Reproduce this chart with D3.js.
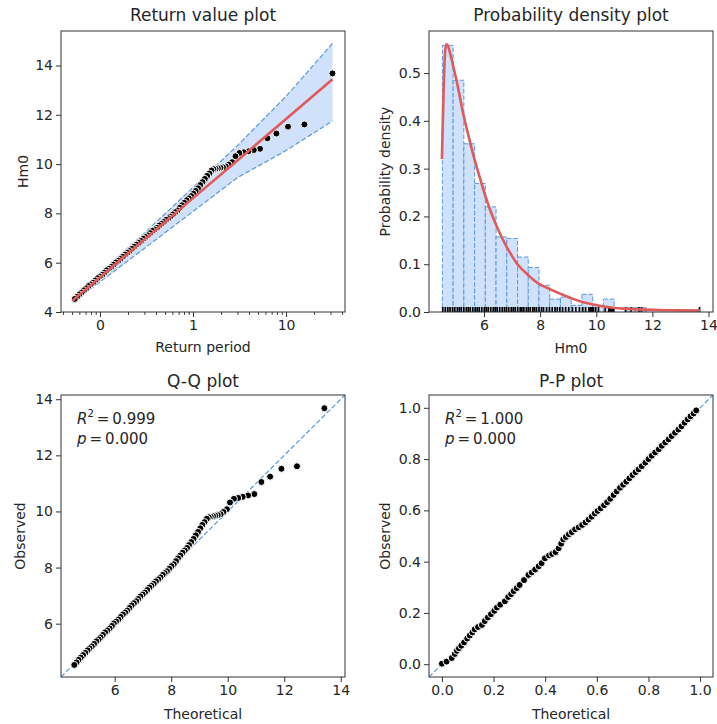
<!DOCTYPE html>
<html><head><meta charset="utf-8">
<script src="https://cdn.jsdelivr.net/npm/d3@7"></script>
<style>
body{margin:0;background:#fff;}
svg text{font-family:"DejaVu Sans",sans-serif;fill:#262626;}
</style></head>
<body><svg id="c" width="717" height="724"></svg>
<script>
// ---------------- data ----------------
// sorted observations, largest first: return period, Q-Q theoretical quantile, observed Hm0
const returnPeriod = [31.5, 15.75, 10.5, 7.88, 6.3, 5.25, 4.5, 3.94, 3.5, 3.15, 2.86, 2.63, 2.42, 2.25, 2.1, 1.97, 1.85, 1.75, 1.66, 1.58,
  1.500, 1.418, 1.340, 1.266, 1.197, 1.131, 1.069, 1.010, 0.955, 0.903, 0.853, 0.806, 0.762, 0.720, 0.681, 0.643, 0.608, 0.574, 0.543, 0.513,
  0.485, 0.458, 0.433, 0.410, 0.387, 0.366, 0.346, 0.327, 0.309, 0.292, 0.276, 0.261, 0.246, 0.233, 0.220, 0.208, 0.197, 0.186, 0.176, 0.166,
  0.157, 0.148, 0.140, 0.132, 0.125, 0.118, 0.112, 0.106, 0.0998, 0.0943, 0.0891, 0.0843, 0.0796, 0.0752, 0.0711, 0.0672, 0.0635, 0.0600, 0.0568, 0.0536];
const theoretical = [13.42, 12.45, 11.9, 11.5, 11.19, 10.94, 10.72, 10.53, 10.37, 10.22, 10.08, 9.97, 9.85, 9.75, 9.65, 9.56, 9.48, 9.4, 9.33, 9.26,
  9.18, 9.10, 9.03, 8.95, 8.87, 8.79, 8.71, 8.63, 8.56, 8.48, 8.40, 8.32, 8.24, 8.17, 8.09, 8.01, 7.93, 7.85, 7.77, 7.70,
  7.62, 7.54, 7.46, 7.38, 7.30, 7.23, 7.15, 7.07, 6.99, 6.91, 6.83, 6.76, 6.68, 6.60, 6.52, 6.44, 6.37, 6.29, 6.21, 6.13,
  6.05, 5.97, 5.90, 5.82, 5.74, 5.66, 5.58, 5.50, 5.43, 5.35, 5.27, 5.19, 5.11, 5.04, 4.96, 4.88, 4.80, 4.72, 4.65, 4.57];
const observed = [13.68, 11.61, 11.52, 11.24, 11.05, 10.62, 10.57, 10.52, 10.48, 10.45, 10.32, 10.08, 9.98, 9.9, 9.87, 9.85, 9.83, 9.81, 9.79, 9.74,
  9.62, 9.52, 9.40, 9.27, 9.15, 9.02, 8.91, 8.80, 8.70, 8.61, 8.53, 8.43, 8.33, 8.23, 8.12, 8.05, 7.96, 7.87, 7.80, 7.74,
  7.65, 7.58, 7.51, 7.42, 7.35, 7.29, 7.20, 7.11, 7.04, 6.97, 6.88, 6.80, 6.73, 6.65, 6.56, 6.47, 6.40, 6.33, 6.24, 6.15,
  6.08, 6.01, 5.92, 5.83, 5.76, 5.69, 5.60, 5.51, 5.44, 5.37, 5.28, 5.19, 5.12, 5.05, 4.96, 4.88, 4.79, 4.71, 4.62, 4.53];
// fitted return value model and confidence interval
const modelPeriod = [0.0505, 0.1, 0.3, 1, 3, 10, 31.6];
const modelValue  = [4.46, 5.41, 6.94, 8.62, 10.15, 11.83, 13.44];
const ciUpper     = [4.52, 5.58, 7.20, 9.05, 10.75, 12.75, 14.90];
const ciLower     = [4.40, 5.22, 6.58, 8.08, 9.45, 10.55, 11.75];
// histogram (density) and fitted pdf
const histStart = 4.517, histBinWidth = 0.3825;
const histDensity = [0.558, 0.485, 0.352, 0.269, 0.220, 0.157, 0.154, 0.115, 0.093, 0.056, 0.027, 0.031,
  0.014, 0.037, 0.014, 0.027, 0, 0.009, 0.009, 0, 0, 0, 0, 0.0045];
const pdfX = [4.50, 4.55, 4.60, 4.65, 4.70, 4.80, 4.90, 5.00, 5.10, 5.26, 5.45, 5.64, 5.83, 6.02, 6.21, 6.41, 6.61, 6.81, 7.00,
  7.18, 7.38, 7.58, 7.77, 7.96, 8.31, 8.73, 9.10, 9.50, 9.85, 10.2, 10.6, 11.0, 11.5, 12.0, 12.5, 13.0, 13.7];
const pdfY = [0.32, 0.44, 0.53, 0.56, 0.558, 0.54, 0.515, 0.49, 0.462, 0.415, 0.368, 0.324, 0.285, 0.248, 0.215, 0.185, 0.159, 0.136, 0.117,
  0.101, 0.088, 0.077, 0.067, 0.059, 0.049, 0.038, 0.029, 0.021, 0.016, 0.012, 0.009, 0.007, 0.0055, 0.0045, 0.0038, 0.0033, 0.003];
// P-P plot
const ppTheoretical = [0.000, 0.018, 0.038, 0.050, 0.058, 0.066, 0.075, 0.086, 0.098, 0.108, 0.118, 0.127, 0.140, 0.155, 0.166, 0.178, 0.190,
  0.203, 0.213, 0.226, 0.244, 0.257, 0.268, 0.278, 0.290, 0.301, 0.318, 0.335, 0.348, 0.361, 0.375, 0.386, 0.399, 0.415, 0.427, 0.440,
  0.452, 0.462, 0.470, 0.480, 0.492, 0.503, 0.516, 0.530, 0.543, 0.556, 0.568, 0.580, 0.592, 0.603, 0.615, 0.628, 0.640, 0.652, 0.665,
  0.677, 0.690, 0.702, 0.714, 0.726, 0.738, 0.750, 0.762, 0.774, 0.788, 0.800, 0.813, 0.826, 0.840, 0.852, 0.865, 0.878, 0.890, 0.903,
  0.916, 0.928, 0.940, 0.952, 0.963, 0.975, 0.985];
const ppObserved = [0.002, 0.010, 0.024, 0.040, 0.052, 0.062, 0.072, 0.085, 0.100, 0.112, 0.124, 0.136, 0.145, 0.153, 0.168, 0.182, 0.195,
  0.208, 0.221, 0.232, 0.245, 0.262, 0.273, 0.285, 0.297, 0.309, 0.328, 0.348, 0.358, 0.369, 0.382, 0.394, 0.413, 0.424, 0.430, 0.437,
  0.452, 0.470, 0.487, 0.496, 0.507, 0.515, 0.526, 0.534, 0.543, 0.553, 0.564, 0.575, 0.588, 0.598, 0.608, 0.620, 0.632, 0.645, 0.660,
  0.674, 0.688, 0.700, 0.712, 0.725, 0.738, 0.749, 0.760, 0.772, 0.786, 0.800, 0.813, 0.826, 0.838, 0.852, 0.865, 0.877, 0.890, 0.903,
  0.915, 0.928, 0.942, 0.955, 0.967, 0.978, 0.990];
// tick values / labels
const returnTicks = [0.1, 1, 10], returnTickLabels = ["0", "1", "10"];
const hm0Ticks = [4, 6, 8, 10, 12, 14];
const densityTicks = [0, 0.1, 0.2, 0.3, 0.4, 0.5];
const qqTicks = [6, 8, 10, 12, 14];
const ppTicks = [0, 0.2, 0.4, 0.6, 0.8, 1.0];
const qqStats = ["0.999", "0.000"], ppStats = ["1.000", "0.000"];

// ---------------- drawing ----------------
const svg = d3.select("#c");
const RED = "#e05a5a", BLUE = "#5a9ad8", FILL = "#cfe1fb", INK = "#262626", SPINE = "#333";
let clipId = 0;
function panel(x0, y0, w, h) {
  const g = svg.append("g").attr("transform", `translate(${x0},${y0})`);
  const id = "clip" + (clipId++);
  g.append("clipPath").attr("id", id).append("rect").attr("width", w).attr("height", h);
  const plot = g.append("g").attr("clip-path", `url(#${id})`);
  return {g, plot, w, h};
}
function styleAxis(a) {
  a.attr("font-size", 14).attr("font-family", "DejaVu Sans");
  a.select(".domain").remove();
  a.selectAll(".tick line").attr("stroke", SPINE).attr("stroke-width", 1);
  a.selectAll(".tick text").attr("fill", INK);
}
function frame(p) {
  p.g.append("rect").attr("x", 0).attr("y", 0).attr("width", p.w).attr("height", p.h)
    .attr("fill", "none").attr("stroke", SPINE).attr("stroke-width", 1);
}
function title(p, t, dy) {
  p.g.append("text").attr("x", p.w / 2).attr("y", dy).attr("text-anchor", "middle")
    .attr("dominant-baseline", "central").attr("font-size", 17).text(t);
}
function xlabel(p, t, dy) {
  p.g.append("text").attr("x", p.w / 2).attr("y", p.h + dy).attr("text-anchor", "middle")
    .attr("dominant-baseline", "central").attr("font-size", 14).text(t);
}
function ylabel(p, t, dx) {
  p.g.append("text").attr("transform", `translate(${dx},${p.h / 2}) rotate(-90)`).attr("text-anchor", "middle")
    .attr("dominant-baseline", "central").attr("font-size", 14).text(t);
}
function dots(p, xs, ys, fx, fy) {
  p.plot.append("g").selectAll("circle").data(xs).join("circle")
    .attr("cx", (d) => fx(d)).attr("cy", (d, i) => fy(ys[i])).attr("r", 3.5)
    .attr("fill", "#000").attr("stroke", "#fff").attr("stroke-width", 1);
}
function stats(p, vals, x, y) {
  const t1 = p.g.append("text").attr("x", x).attr("y", y).attr("font-size", 15).attr("dominant-baseline", "central");
  t1.append("tspan").attr("font-style", "italic").text("R");
  t1.append("tspan").attr("font-size", 10).attr("dy", -6).text("2");
  t1.append("tspan").attr("dy", 6).text("\u2009=\u2009" + vals[0]);
  const t2 = p.g.append("text").attr("x", x).attr("y", y + 20).attr("font-size", 15).attr("dominant-baseline", "central");
  t2.append("tspan").attr("font-style", "italic").text("p");
  t2.append("tspan").text("\u2009=\u2009" + vals[1]);
}

// ---- Return value plot ----
{
  const p = panel(61, 31, 284, 281);
  const x = d3.scaleLog().domain([0.0381, 43]).range([0, p.w]);
  const y = d3.scaleLinear().domain([4, 15.4]).range([p.h, 0]);
  const idx = d3.range(modelPeriod.length);
  p.plot.append("path").datum(idx).attr("fill", FILL).attr("stroke", "none")
    .attr("d", d3.area().x((i) => x(modelPeriod[i])).y0((i) => y(ciLower[i])).y1((i) => y(ciUpper[i])));
  [ciUpper, ciLower].forEach((arr) => {
    p.plot.append("path").datum(idx).attr("fill", "none").attr("stroke", BLUE).attr("stroke-width", 1.2)
      .attr("stroke-dasharray", "5,2.2").attr("d", d3.line().x((i) => x(modelPeriod[i])).y((i) => y(arr[i])));
  });
  dots(p, returnPeriod, observed, x, y);
  p.plot.append("path").datum(idx).attr("fill", "none").attr("stroke", RED).attr("stroke-width", 2.6)
    .attr("d", d3.line().x((i) => x(modelPeriod[i])).y((i) => y(modelValue[i])));
  const minor = x.ticks().filter((t) => !returnTicks.some((m) => Math.abs(m - t) < 1e-9));
  const ax = p.g.append("g").attr("transform", `translate(0,${p.h})`)
    .call(d3.axisBottom(x).tickValues(returnTicks).tickFormat((d, i) => returnTickLabels[i]).tickSize(5).tickPadding(3));
  styleAxis(ax);
  const axm = p.g.append("g").attr("transform", `translate(0,${p.h})`)
    .call(d3.axisBottom(x).tickValues(minor).tickFormat("").tickSize(2.8));
  styleAxis(axm);
  const ay = p.g.append("g").call(d3.axisLeft(y).tickValues(hm0Ticks).tickFormat(d3.format("d")).tickSize(5).tickPadding(3));
  styleAxis(ay);
  frame(p);
  title(p, "Return value plot", -16);
  xlabel(p, "Return period", 35);
  ylabel(p, "Hm0", -38);
}

// ---- Probability density plot ----
{
  const p = panel(429, 31, 284, 281);
  const x = d3.scaleLinear().domain([4.04, 14.16]).range([0, p.w]);
  const y = d3.scaleLinear().domain([0, 0.588]).range([p.h, 0]);
  p.plot.append("g").selectAll("rect").data(histDensity).join("rect")
    .attr("x", (d, i) => x(histStart + i * histBinWidth))
    .attr("width", (d, i) => x(histStart + (i + 1) * histBinWidth) - x(histStart + i * histBinWidth))
    .attr("y", (d) => y(d)).attr("height", (d) => y(0) - y(d))
    .attr("fill", FILL).attr("stroke", BLUE).attr("stroke-width", 1).attr("stroke-dasharray", "4.5,2")
    .attr("display", (d) => d > 0 ? null : "none");
  p.plot.append("g").selectAll("line").data(observed).join("line")
    .attr("x1", (d) => x(d)).attr("x2", (d) => x(d)).attr("y1", y(0)).attr("y2", y(0) - 5)
    .attr("stroke", "#000").attr("stroke-width", 1.7);
  const idx = d3.range(pdfX.length);
  p.plot.append("path").datum(idx).attr("fill", "none").attr("stroke", RED).attr("stroke-width", 2.6)
    .attr("d", d3.line().x((i) => x(pdfX[i])).y((i) => y(pdfY[i])).curve(d3.curveMonotoneX));
  const ax = p.g.append("g").attr("transform", `translate(0,${p.h})`)
    .call(d3.axisBottom(x).tickValues(qqTicks).tickFormat(d3.format("d")).tickSize(5).tickPadding(3));
  styleAxis(ax);
  const ay = p.g.append("g").call(d3.axisLeft(y).tickValues(densityTicks).tickFormat(d3.format(".1f")).tickSize(5).tickPadding(3));
  styleAxis(ay);
  frame(p);
  title(p, "Probability density plot", -16);
  xlabel(p, "Hm0", 36);
  ylabel(p, "Probability density", -44);
}

// ---- Q-Q plot ----
{
  const p = panel(61, 395, 284, 282);
  const x = d3.scaleLinear().domain([4.1, 14.15]).range([0, p.w]);
  const y = d3.scaleLinear().domain([4.1, 14.15]).range([p.h, 0]);
  p.plot.append("line").attr("x1", x(4.1)).attr("y1", y(4.1)).attr("x2", x(14.15)).attr("y2", y(14.15))
    .attr("stroke", BLUE).attr("stroke-width", 1.2).attr("stroke-dasharray", "5,2.2");
  dots(p, theoretical, observed, x, y);
  const ax = p.g.append("g").attr("transform", `translate(0,${p.h})`)
    .call(d3.axisBottom(x).tickValues(qqTicks).tickFormat(d3.format("d")).tickSize(5).tickPadding(3));
  styleAxis(ax);
  const ay = p.g.append("g").call(d3.axisLeft(y).tickValues(qqTicks).tickFormat(d3.format("d")).tickSize(5).tickPadding(3));
  styleAxis(ay);
  frame(p);
  stats(p, qqStats, 16, 24);
  title(p, "Q-Q plot", -14);
  xlabel(p, "Theoretical", 37);
  ylabel(p, "Observed", -41);
}

// ---- P-P plot ----
{
  const p = panel(429, 395, 284, 282);
  const x = d3.scaleLinear().domain([-0.05, 1.05]).range([0, p.w]);
  const y = d3.scaleLinear().domain([-0.05, 1.05]).range([p.h, 0]);
  p.plot.append("line").attr("x1", x(-0.05)).attr("y1", y(-0.05)).attr("x2", x(1.05)).attr("y2", y(1.05))
    .attr("stroke", BLUE).attr("stroke-width", 1.2).attr("stroke-dasharray", "5,2.2");
  dots(p, ppTheoretical, ppObserved, x, y);
  const ax = p.g.append("g").attr("transform", `translate(0,${p.h})`)
    .call(d3.axisBottom(x).tickValues(ppTicks).tickFormat(d3.format(".1f")).tickSize(5).tickPadding(3));
  styleAxis(ax);
  const ay = p.g.append("g").call(d3.axisLeft(y).tickValues(ppTicks).tickFormat(d3.format(".1f")).tickSize(5).tickPadding(3));
  styleAxis(ay);
  frame(p);
  stats(p, ppStats, 16, 24);
  title(p, "P-P plot", -14);
  xlabel(p, "Theoretical", 37);
  ylabel(p, "Observed", -44);
}
</script>
</body></html>
